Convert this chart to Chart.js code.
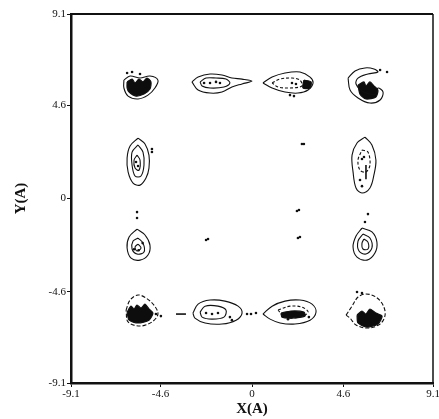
<!DOCTYPE html>
<html>
<head>
<meta charset="utf-8">
<script src="https://cdn.jsdelivr.net/npm/chart.js@4.4.1/dist/chart.umd.min.js"></script>
<style>
  html, body { margin: 0; padding: 0; background: #fff; }
  #wrap { width: 439px; height: 419px; }
</style>
</head>
<body>
<div id="wrap"><canvas id="c" width="439" height="419"></canvas></div>
<script>
// ---- axis ticks ----
const xTickValues = [-9.1, -4.6, 0, 4.6, 9.1];
const xTickLabels = ['-9.1', '-4.6', '0', '4.6', '9.1'];
const yTickValues = [-9.1, -4.6, 0, 4.6, 9.1];
const yTickLabels = ['-9.1', '-4.6', '0', '4.6', '9.1'];

// ---- contour lines (data units, Angstrom) ----
// top row
const topLeftOuter = [[-6.44,5.84],[-6.13,6.04],[-5.63,5.94],[-5.13,6.04],[-4.73,5.84],[-4.88,5.45],[-5.23,5.10],[-5.73,4.91],[-6.23,5.05],[-6.44,5.45],[-6.44,5.84]];
const topLeftCore = [[-6.28,5.75],[-6.03,5.89],[-5.88,5.70],[-5.68,5.89],[-5.48,5.75],[-5.28,5.94],[-5.08,5.75],[-5.13,5.40],[-5.43,5.15],[-5.83,5.05],[-6.18,5.25],[-6.28,5.45],[-6.28,5.75]];
const topMidLeftOuter = [[-3.02,5.75],[-2.71,5.99],[-2.11,6.14],[-1.51,6.09],[-1.01,5.94],[-0.50,5.89],[0.00,5.79],[-0.50,5.65],[-1.01,5.50],[-1.51,5.25],[-2.11,5.20],[-2.71,5.35],[-3.02,5.75]];
const topMidLeftInner = [[-2.61,5.75],[-2.31,5.94],[-1.81,5.94],[-1.31,5.89],[-1.11,5.70],[-1.41,5.50],[-2.11,5.45],[-2.51,5.55],[-2.61,5.75]];
const topMidRightOuter = [[0.55,5.70],[1.01,5.99],[1.66,6.19],[2.41,6.24],[2.92,5.99],[3.07,5.70],[2.82,5.35],[2.31,5.20],[1.66,5.25],[1.01,5.45],[0.55,5.70]];
const topMidRightInner = [[1.01,5.70],[1.41,5.89],[2.01,5.94],[2.41,5.84],[2.51,5.55],[1.91,5.45],[1.31,5.50],[1.01,5.70]];
const topMidRightCore = [[2.61,5.84],[2.97,5.75],[2.92,5.45],[2.56,5.45],[2.61,5.84]];
const topRightOuter = [[4.83,5.94],[5.18,6.29],[5.68,6.44],[6.13,6.39],[6.33,6.24],[5.83,6.14],[5.33,5.94],[5.23,5.65],[5.63,5.25],[6.23,5.15],[6.33,5.45],[6.59,5.25],[6.44,4.86],[5.93,4.71],[5.33,4.96],[4.93,5.35],[4.83,5.94]];
const topRightCore = [[5.33,5.60],[5.63,5.75],[5.73,5.55],[5.93,5.75],[6.13,5.55],[6.33,5.35],[6.23,5.01],[5.73,4.91],[5.43,5.15],[5.33,5.60]];
// upper-middle row
const upperLeftOuter = [[-5.73,2.98],[-5.38,2.69],[-5.18,2.14],[-5.18,1.50],[-5.33,1.01],[-5.63,0.66],[-5.98,0.76],[-6.23,1.31],[-6.28,2.00],[-6.13,2.59],[-5.73,2.98]];
const upperLeftInner = [[-5.73,2.64],[-5.48,2.29],[-5.43,1.65],[-5.58,1.11],[-5.88,1.11],[-6.03,1.65],[-6.03,2.29],[-5.73,2.64]];
const upperLeftCore = [[-5.78,2.14],[-5.63,1.90],[-5.68,1.40],[-5.88,1.50],[-5.93,1.90],[-5.78,2.14]];
const upperRightOuter = [[5.68,3.03],[6.03,2.64],[6.23,1.90],[6.13,1.16],[5.93,0.52],[5.53,0.27],[5.23,0.52],[5.08,1.31],[5.03,2.14],[5.28,2.74],[5.68,3.03]];
const upperRightInner = [[5.53,2.39],[5.83,2.29],[5.93,1.65],[5.73,1.31],[5.43,1.40],[5.33,1.90],[5.53,2.39]];
const upperRightStem = [[5.73,1.65],[5.73,0.95]];
// lower-middle row
const lowerLeftOuter = [[-5.78,-1.51],[-5.38,-1.80],[-5.13,-2.30],[-5.23,-2.79],[-5.63,-3.04],[-6.08,-2.94],[-6.28,-2.44],[-6.18,-1.90],[-5.78,-1.51]];
const lowerLeftInner = [[-5.73,-1.95],[-5.48,-2.20],[-5.43,-2.64],[-5.78,-2.74],[-6.03,-2.49],[-5.98,-2.10],[-5.73,-1.95]];
const lowerLeftCore = [[-5.73,-2.25],[-5.58,-2.44],[-5.78,-2.59],[-5.88,-2.39],[-5.73,-2.25]];
const lowerRightOuter = [[5.53,-1.46],[6.03,-1.65],[6.28,-2.15],[6.18,-2.69],[5.78,-3.04],[5.28,-2.89],[5.08,-2.39],[5.23,-1.85],[5.53,-1.46]];
const lowerRightInner = [[5.58,-1.75],[5.93,-1.95],[6.03,-2.44],[5.73,-2.74],[5.38,-2.59],[5.33,-2.10],[5.58,-1.75]];
const lowerRightCore = [[5.63,-2.00],[5.83,-2.15],[5.83,-2.49],[5.58,-2.49],[5.53,-2.20],[5.63,-2.00]];
// bottom row
const bottomLeftOuter = [[-6.33,-5.50],[-6.13,-5.01],[-5.73,-4.76],[-5.33,-4.91],[-4.93,-5.26],[-4.73,-5.70],[-5.03,-6.09],[-5.63,-6.29],[-6.23,-6.09],[-6.33,-5.50]];
const bottomLeftCore = [[-6.28,-5.60],[-6.08,-5.31],[-5.93,-5.45],[-5.78,-5.26],[-5.58,-5.40],[-5.38,-5.21],[-5.18,-5.45],[-4.98,-5.65],[-5.18,-6.00],[-5.73,-6.14],[-6.18,-6.00],[-6.28,-5.60]];
const bottomDash = [[-3.82,-5.70],[-3.32,-5.70]];
const bottomMidLeftOuter = [[-2.97,-5.65],[-2.71,-5.21],[-2.11,-5.01],[-1.36,-5.06],[-0.70,-5.31],[-0.50,-5.65],[-0.80,-6.00],[-1.51,-6.19],[-2.36,-6.14],[-2.87,-5.90],[-2.97,-5.65]];
const bottomMidLeftInner = [[-2.61,-5.60],[-2.36,-5.31],[-1.71,-5.31],[-1.31,-5.50],[-1.41,-5.85],[-2.01,-5.95],[-2.51,-5.85],[-2.61,-5.60]];
const bottomMidRightOuter = [[0.55,-5.70],[1.01,-5.31],[1.66,-5.06],[2.41,-5.01],[3.02,-5.21],[3.22,-5.60],[2.92,-6.00],[2.16,-6.19],[1.41,-6.14],[0.91,-5.95],[0.55,-5.70]];
const bottomMidRightInner = [[1.31,-5.50],[1.91,-5.31],[2.51,-5.36],[2.82,-5.60],[2.41,-5.85],[1.66,-5.85],[1.31,-5.50]];
const bottomMidRightCore = [[1.46,-5.65],[1.96,-5.55],[2.61,-5.60],[2.66,-5.80],[1.96,-5.90],[1.51,-5.85],[1.46,-5.65]];
const bottomRightOuter = [[4.73,-5.75],[5.03,-5.31],[5.33,-4.86],[5.73,-4.71],[6.23,-4.86],[6.59,-5.26],[6.69,-5.75],[6.44,-6.19],[5.83,-6.39],[5.23,-6.24],[4.93,-5.90],[4.73,-5.75]];
const bottomRightCore = [[5.28,-5.75],[5.53,-5.55],[5.73,-5.70],[5.93,-5.45],[6.23,-5.65],[6.54,-5.80],[6.33,-6.19],[5.78,-6.34],[5.33,-6.14],[5.28,-5.75]];

// isolated specks / contour-label blots
const specks = [
  [2.51,2.69],[2.61,2.69],[2.26,-0.62],[2.36,-0.57],[2.31,-1.95],[2.41,-1.90],[-2.31,-2.05],[-2.21,-2.00],
  [-5.78,-0.96],[-5.78,-0.67],[-5.03,2.29],[-5.03,2.44],[-6.28,6.19],[-6.03,6.24],[-5.63,6.14],
  [-4.83,-5.70],[-4.58,-5.80],[-0.25,-5.70],[-0.05,-5.70],[0.20,-5.65],[6.44,6.34],[6.79,6.24],
  [5.68,-1.16],[5.83,-0.77],[5.43,0.91],[5.53,0.61],[5.53,1.95],[5.63,2.05],
  [-2.41,5.70],[-2.11,5.70],[-1.81,5.75],[-1.61,5.70],[2.01,5.70],[2.21,5.65],[1.91,5.10],[2.11,5.05],
  [-5.83,1.80],[-5.73,1.60],[-2.31,-5.65],[-2.01,-5.70],[-1.71,-5.65],[-1.11,-5.85],[-1.01,-6.00],
  [1.81,-5.95],[2.86,-5.85],[5.28,-4.61],[5.53,-4.66],[-5.93,-2.50],[-5.70,-2.55],[-5.5,-2.2]
];

const toPts = arr => arr.map(p => ({x: p[0], y: p[1]}));

function ring(arr, opts) {
  return Object.assign({
    data: toPts(arr), showLine: true, borderColor: '#111', borderWidth: 1.1,
    pointRadius: 0, pointHoverRadius: 0, tension: 0.35, fill: false
  }, opts || {});
}
function core(arr) {
  return ring(arr, { fill: 'shape', backgroundColor: '#0d0d0d', borderWidth: 1.2, tension: 0.25 });
}

const datasets = [
  ring(topLeftOuter), core(topLeftCore),
  ring(topMidLeftOuter), ring(topMidLeftInner),
  ring(topMidRightOuter), ring(topMidRightInner, {borderDash: [3, 2]}), core(topMidRightCore),
  ring(topRightOuter), core(topRightCore),
  ring(upperLeftOuter), ring(upperLeftInner), ring(upperLeftCore),
  ring(upperRightOuter), ring(upperRightInner, {borderDash: [3, 2]}), ring(upperRightStem, {borderWidth: 1.6, tension: 0}),
  ring(lowerLeftOuter), ring(lowerLeftInner), ring(lowerLeftCore),
  ring(lowerRightOuter), ring(lowerRightInner), ring(lowerRightCore),
  ring(bottomLeftOuter, {borderDash: [4, 2]}), core(bottomLeftCore),
  ring(bottomDash, {borderWidth: 1.6, tension: 0}),
  ring(bottomMidLeftOuter), ring(bottomMidLeftInner),
  ring(bottomMidRightOuter), ring(bottomMidRightInner, {borderDash: [3, 2]}), core(bottomMidRightCore),
  ring(bottomRightOuter, {borderDash: [4, 2]}), core(bottomRightCore),
  { data: toPts(specks), showLine: false, pointRadius: 1.3, pointBackgroundColor: '#111', pointBorderWidth: 0, pointHoverRadius: 0 }
];

const frame = {
  id: 'frame',
  afterDraw(chart) {
    const {ctx, chartArea: a} = chart;
    ctx.save();
    ctx.strokeStyle = '#111';
    ctx.lineWidth = 2;
    ctx.beginPath(); ctx.moveTo(a.left, a.top); ctx.lineTo(a.right, a.top); ctx.stroke();
    ctx.lineWidth = 1.5;
    ctx.beginPath(); ctx.moveTo(a.right, a.top); ctx.lineTo(a.right, a.bottom); ctx.stroke();
    ctx.restore();
  }
};

const tickFont = { family: '"Liberation Serif", "DejaVu Serif", serif', size: 11 };
const titleFont = { family: '"Liberation Serif", "DejaVu Serif", serif', size: 15, weight: 'bold' };

new Chart(document.getElementById('c'), {
  type: 'scatter',
  data: { datasets },
  options: {
    responsive: false,
    devicePixelRatio: 1,
    animation: false,
    events: [],
    layout: { padding: { left: 0, top: 14, right: 6, bottom: 0 } },
    plugins: { legend: { display: false }, tooltip: { enabled: false } },
    scales: {
      x: {
        type: 'linear', min: -9.1, max: 9.1,
        afterBuildTicks: s => { s.ticks = xTickValues.map(v => ({value: v})); },
        afterFit: s => { s.height = 36; s.paddingLeft = 0; s.paddingRight = 0; },
        ticks: { font: tickFont, color: '#111', padding: 1, maxRotation: 0, autoSkip: false,
          callback: (v) => { const i = xTickValues.indexOf(v); return i >= 0 ? xTickLabels[i] : ''; } },
        grid: { drawOnChartArea: false, tickLength: 4, color: '#111', tickWidth: 1 },
        border: { display: true, color: '#111', width: 2.5 },
        title: { display: true, text: 'X(A)', font: titleFont, color: '#111', padding: { top: 0, bottom: 1 } }
      },
      y: {
        type: 'linear', min: -9.1, max: 9.1,
        afterBuildTicks: s => { s.ticks = yTickValues.map(v => ({value: v})); },
        afterFit: s => { s.width = 71; s.paddingTop = 0; s.paddingBottom = 0; },
        ticks: { font: tickFont, color: '#111', padding: 1, autoSkip: false,
          callback: (v) => { const i = yTickValues.indexOf(v); return i >= 0 ? yTickLabels[i] : ''; } },
        grid: { drawOnChartArea: false, tickLength: 4, color: '#111', tickWidth: 1 },
        border: { display: true, color: '#111', width: 2.5 },
        title: { display: true, text: 'Y(A)', font: titleFont, color: '#111', padding: { top: 12, bottom: 0 } }
      }
    }
  },
  plugins: [frame]
});
</script>
</body>
</html>
